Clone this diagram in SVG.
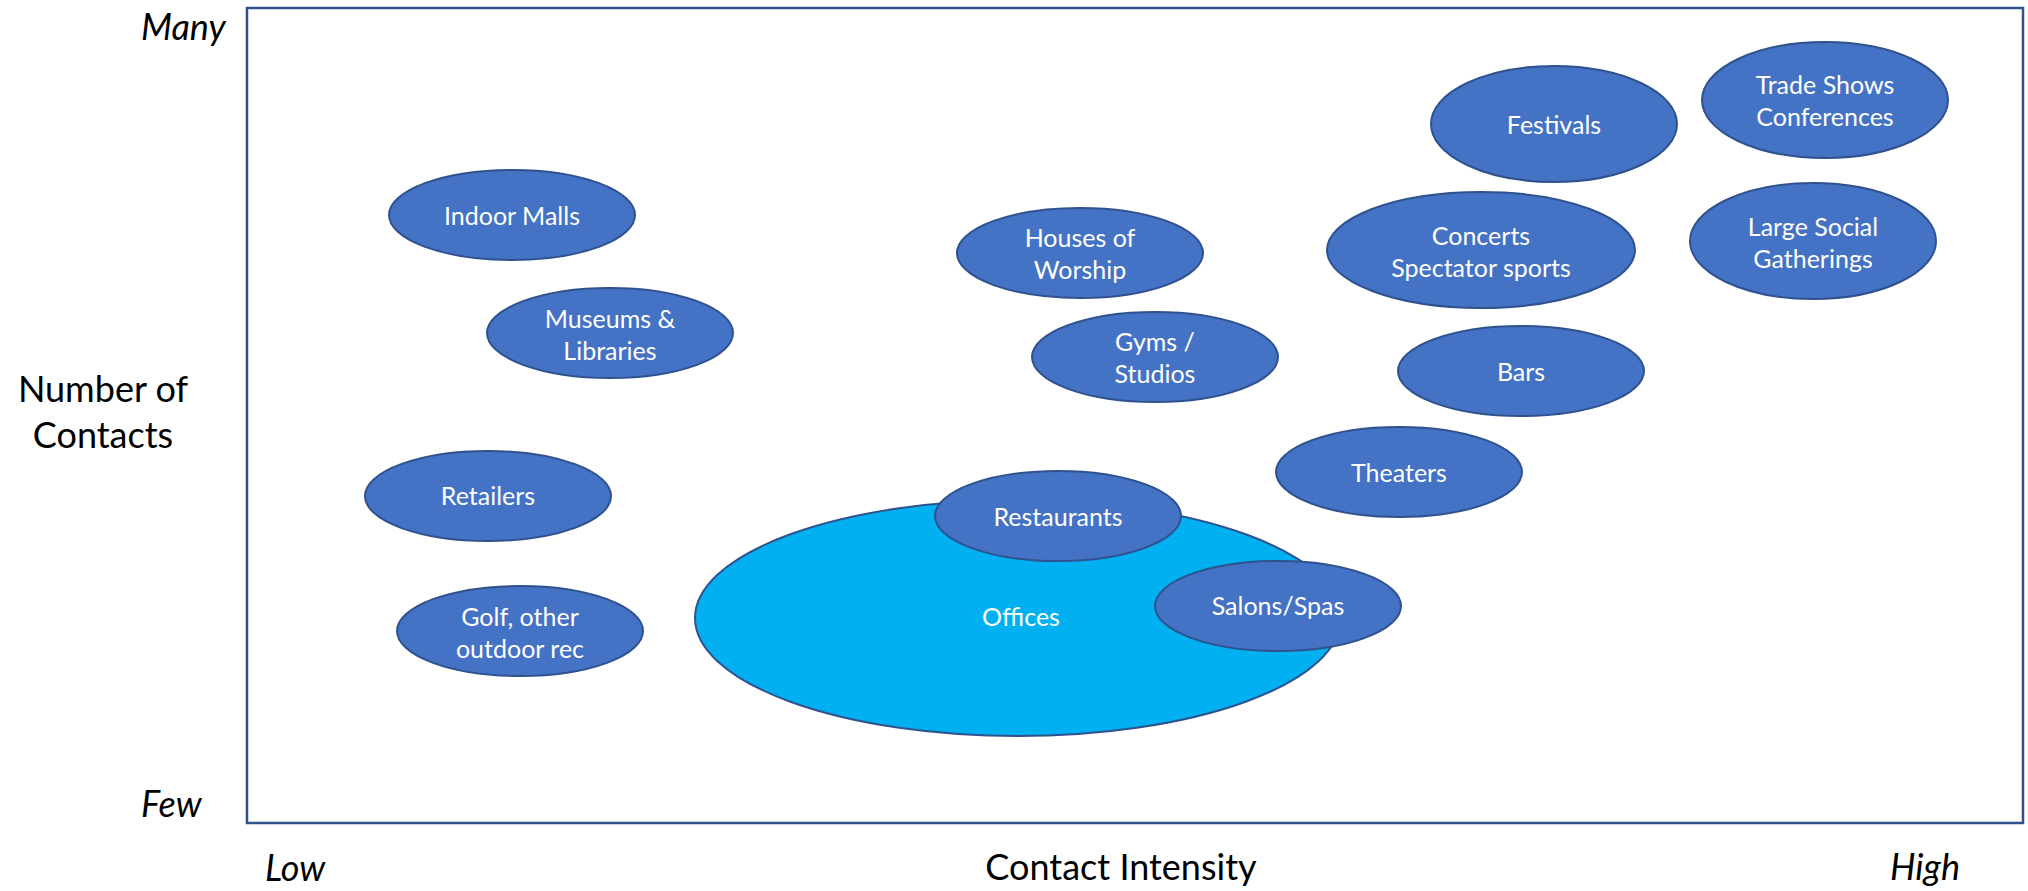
<svg xmlns="http://www.w3.org/2000/svg" width="2028" height="891" viewBox="0 0 2028 891">
<style>
.n{fill:#4472C4;stroke:#2F528F;stroke-width:2}
.o{fill:#00B0F0;stroke:#2F528F;stroke-width:2}
.t{font-family:Lato,"Open Sans","Liberation Sans",sans-serif;font-size:25px;fill:#FFFFFF;text-anchor:middle;dominant-baseline:central}
.a{font-family:Lato,"Open Sans","Liberation Sans",sans-serif;font-size:36px;fill:#000000}
.i{font-style:italic}
</style>
<rect x="247" y="8" width="1776" height="815" fill="#FFFFFF" stroke="#2F528F" stroke-width="2.5"/>
<g id="axes">
<text class="a i" x="141" y="40">Many</text>
<text class="a i" x="141" y="817">Few</text>
<text class="a" x="103" y="402" text-anchor="middle">Number of</text>
<text class="a" x="103" y="448" text-anchor="middle">Contacts</text>
<text class="a i" x="265" y="881">Low</text>
<text class="a" x="1121" y="880" text-anchor="middle">Contact Intensity</text>
<text class="a i" x="1960" y="880" text-anchor="end">High</text>
</g>
<g id="connectors"></g>
<g id="offices"><ellipse class="o" cx="1018" cy="618" rx="323" ry="118"/><text class="t" x="1021" y="616">Offices</text></g>
<g id="restaurants"><ellipse class="n" cx="1058" cy="516" rx="123" ry="45"/><text class="t" x="1058" y="516">Restaurants</text></g>
<g id="salons"><ellipse class="n" cx="1278" cy="606" rx="123" ry="45"/><text class="t" x="1278" y="605">Salons/Spas</text></g>
<g id="indoor-malls"><ellipse class="n" cx="512" cy="215" rx="123" ry="45"/><text class="t" x="512" y="215">Indoor Malls</text></g>
<g id="museums"><ellipse class="n" cx="610" cy="333" rx="123" ry="45"/><text class="t" x="610" y="318">Museums &amp;</text><text class="t" x="610" y="350">Libraries</text></g>
<g id="retailers"><ellipse class="n" cx="488" cy="496" rx="123" ry="45"/><text class="t" x="488" y="495">Retailers</text></g>
<g id="golf"><ellipse class="n" cx="520" cy="631" rx="123" ry="45"/><text class="t" x="520" y="616">Golf, other</text><text class="t" x="520" y="648">outdoor rec</text></g>
<g id="houses"><ellipse class="n" cx="1080" cy="253" rx="123" ry="45"/><text class="t" x="1080" y="237">Houses of</text><text class="t" x="1080" y="269">Worship</text></g>
<g id="gyms"><ellipse class="n" cx="1155" cy="357" rx="123" ry="45"/><text class="t" x="1155" y="341">Gyms /</text><text class="t" x="1155" y="373">Studios</text></g>
<g id="theaters"><ellipse class="n" cx="1399" cy="472" rx="123" ry="45"/><text class="t" x="1399" y="472">Theaters</text></g>
<g id="bars"><ellipse class="n" cx="1521" cy="371" rx="123" ry="45"/><text class="t" x="1521" y="371">Bars</text></g>
<g id="concerts"><ellipse class="n" cx="1481" cy="250" rx="154" ry="58"/><text class="t" x="1481" y="235">Concerts</text><text class="t" x="1481" y="267">Spectator sports</text></g>
<g id="festivals"><ellipse class="n" cx="1554" cy="124" rx="123" ry="58"/><text class="t" x="1554" y="124">Festivals</text></g>
<g id="trade-shows"><ellipse class="n" cx="1825" cy="100" rx="123" ry="58"/><text class="t" x="1825" y="84">Trade Shows</text><text class="t" x="1825" y="116">Conferences</text></g>
<g id="large-social"><ellipse class="n" cx="1813" cy="241" rx="123" ry="58"/><text class="t" x="1813" y="226">Large Social</text><text class="t" x="1813" y="258">Gatherings</text></g>
</svg>
